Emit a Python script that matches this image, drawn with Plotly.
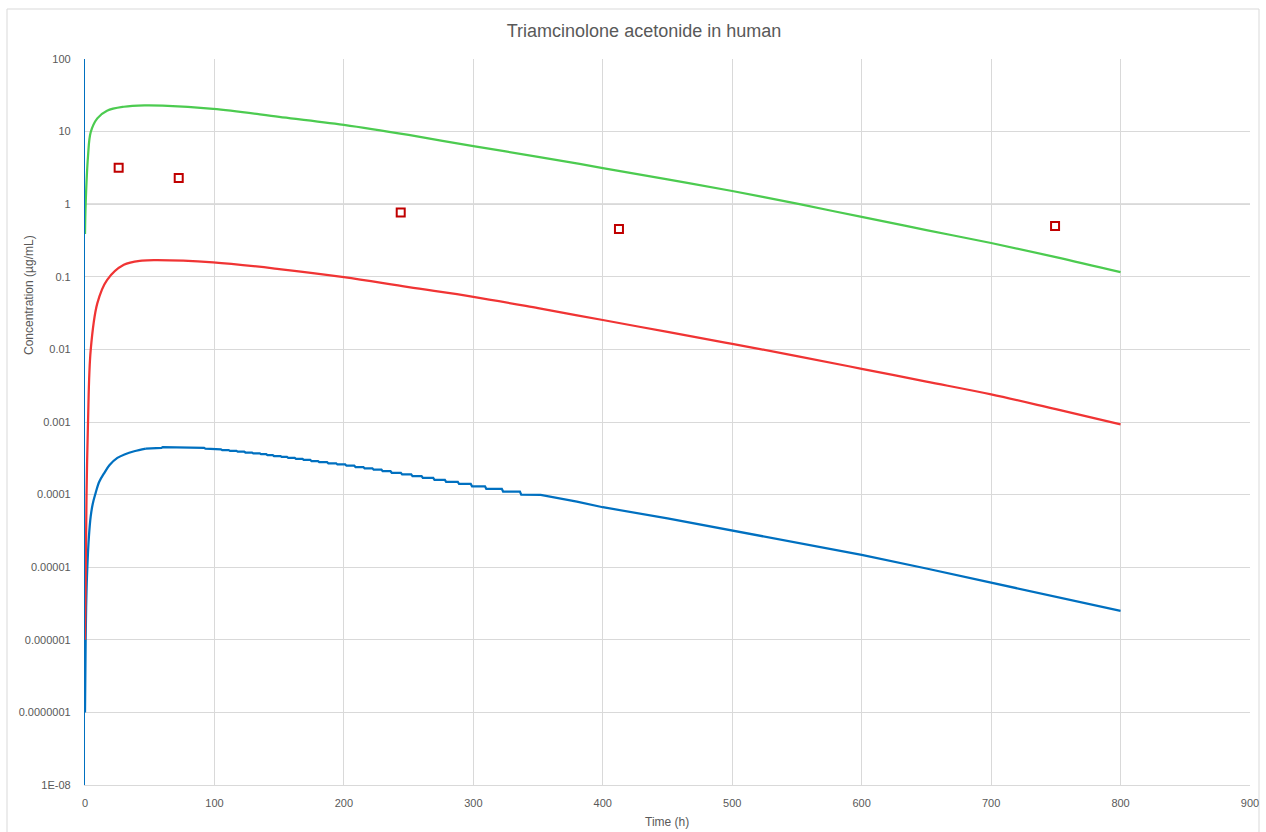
import plotly.graph_objects as go

# ---- simulated concentration profiles (time in h, concentration in µg/mL) ----
green_t = [0, 0.5, 2.3, 4.4, 9.5, 17, 30, 46, 60, 99, 150, 200, 250, 300, 350, 400,
           450, 500, 552, 600, 650, 700, 750, 800]
green_c = [0.39, 1.0, 4.5, 9.8, 15.2, 19.4, 22.0, 23.0, 22.8, 20.5, 16.0, 12.4, 9.0, 6.3,
           4.5, 3.15, 2.2, 1.52, 1.0, 0.667, 0.44, 0.292, 0.187, 0.116]

red_t = [0, 0.6, 1.2, 2.3, 4.4, 9.5, 17, 30, 44, 56, 99, 150, 200, 250, 300, 350, 400,
         450, 500, 550, 600, 650, 700, 750, 800]
red_c = [1e-6, 1e-5, 1e-4, 0.00096, 0.0098, 0.043, 0.090, 0.146, 0.167, 0.170, 0.158,
         0.128, 0.099, 0.072, 0.053, 0.037, 0.0254, 0.0174, 0.0119, 0.0081, 0.0054,
         0.0036, 0.0024, 0.0015, 0.00093]

# blue: rising phase, then values reported to two significant figures (plateaus), then tail
blue_rise_t = [0, 0.5, 1.0, 1.8, 3.0, 4.4, 6.0, 8.2, 11, 14.7, 19, 25, 31, 38, 47]
blue_rise_c = [1e-7, 1e-6, 3.5e-6, 1e-5, 2.6e-5, 5e-5, 7.5e-5, 1.05e-4, 1.5e-4, 1.96e-4,
               2.55e-4, 3.2e-4, 3.6e-4, 3.95e-4, 4.3e-4]

blue_step_start = [47, 52, 60, 86, 93, 99, 106, 112, 118, 124, 130, 136, 141, 146, 152,
                   157, 163, 169, 175, 181, 188, 195, 202, 209, 216, 223, 230, 237, 245,
                   253, 261, 270, 279, 289, 299, 310, 323, 337]
blue_step_end = [51, 59, 85, 92, 98, 105, 111, 117, 123, 129, 135, 140, 145, 151, 156,
                 162, 168, 174, 180, 187, 194, 201, 208, 215, 222, 229, 236, 244, 252,
                 260, 269, 278, 288, 298, 309, 322, 336, 351]
blue_step_value = [4.3e-4, 4.4e-4, 4.5e-4, 4.4e-4, 4.3e-4, 4.2e-4, 4.1e-4, 4.0e-4, 3.9e-4,
                   3.8e-4, 3.7e-4, 3.6e-4, 3.5e-4, 3.4e-4, 3.3e-4, 3.2e-4, 3.1e-4, 3.0e-4,
                   2.9e-4, 2.8e-4, 2.7e-4, 2.6e-4, 2.5e-4, 2.4e-4, 2.3e-4, 2.2e-4, 2.1e-4,
                   2.0e-4, 1.9e-4, 1.8e-4, 1.7e-4, 1.6e-4, 1.5e-4, 1.4e-4, 1.3e-4, 1.2e-4,
                   1.1e-4, 1.0e-4]

blue_tail_t = [352, 380, 400, 450, 500, 550, 600, 650, 700, 750, 800]
blue_tail_c = [9.9e-5, 8.0e-5, 6.7e-5, 4.7e-5, 3.2e-5, 2.2e-5, 1.48e-5, 9.6e-6, 6.1e-6,
               3.9e-6, 2.5e-6]

# ---- observed concentrations ----
obs_t = [26, 72.4, 243.9, 412.5, 749.4]
obs_c = [3.18, 2.30, 0.77, 0.455, 0.50]

# y-axis decades and labels
y_ticks = [1e-8, 1e-7, 1e-6, 1e-5, 1e-4, 1e-3, 1e-2, 1e-1, 1, 10, 100]
y_labels = ["1E-08", "0.0000001", "0.000001", "0.00001", "0.0001", "0.001", "0.01",
            "0.1", "1", "10", "100"]
x_ticks = [0, 100, 200, 300, 400, 500, 600, 700, 800, 900]

# plateau part of the blue profile followed by its tail
blue_t, blue_c = [], []
for s, e, v in zip(blue_step_start, blue_step_end, blue_step_value):
    blue_t += [s, e]
    blue_c += [v, v]
blue_t += blue_tail_t
blue_c += blue_tail_c

W, H = 1266, 832
L, R, T, B = 85, 1250, 59, 785
PW, PH = R - L, B - T
FONT = "Liberation Sans, Arial, sans-serif"
BLUE, RED, GREEN = "#0070C0", "#F03434", "#4CCB50"

fig = go.Figure()
fig.add_trace(go.Scatter(x=blue_rise_t, y=blue_rise_c, mode="lines", line_shape="spline",
                         line=dict(color=BLUE, width=2.25), showlegend=False))
fig.add_trace(go.Scatter(x=blue_t, y=blue_c, mode="lines",
                         line=dict(color=BLUE, width=2.25), showlegend=False))
fig.add_trace(go.Scatter(x=red_t, y=red_c, mode="lines", line_shape="spline",
                         line=dict(color=RED, width=2.25), showlegend=False))
fig.add_trace(go.Scatter(x=green_t, y=green_c, mode="lines", line_shape="spline",
                         line=dict(color=GREEN, width=2.25), showlegend=False))
fig.add_trace(go.Scatter(x=obs_t, y=obs_c, mode="markers",
                         marker=dict(symbol="square", size=8, color="white",
                                     line=dict(color="#C00000", width=2)),
                         showlegend=False))

tick_font = dict(family=FONT, size=11, color="#595959")

fig.update_layout(
    width=W, height=H,
    margin=dict(l=L, r=W - R, t=T, b=H - B, autoexpand=False),
    paper_bgcolor="white", plot_bgcolor="white",
    title=dict(text="Triamcinolone acetonide in human", x=644 / W, xanchor="center",
               y=1 - 31 / H, yanchor="middle",
               font=dict(family=FONT, size=18, color="#595959")),
    xaxis=dict(range=[0, 900], tickvals=x_ticks, showgrid=True, gridcolor="#D9D9D9",
               gridwidth=1, zeroline=False, showline=True, linecolor="#D9D9D9",
               linewidth=1, ticks="", tickfont=tick_font, ticklabelstandoff=8,
               automargin=False),
    yaxis=dict(type="log", range=[-8, 2], tickvals=y_ticks, ticktext=y_labels,
               showgrid=True, gridcolor="#D9D9D9", gridwidth=1, zeroline=False,
               showline=True, linecolor=BLUE, linewidth=1.2, ticks="",
               tickfont=tick_font, ticklabelstandoff=11, automargin=False),
    shapes=[
        # outer chart border
        dict(type="rect", xref="paper", yref="paper",
             x0=(7 - L) / PW, x1=(1259 - L) / PW,
             y0=-(H + 10 - B) / PH, y1=(B - 9) / PH,
             line=dict(color="#D9D9D9", width=1), layer="below"),
        # horizontal axis crossing at 1
        dict(type="line", xref="paper", yref="y", x0=0, x1=1, y0=1, y1=1,
             line=dict(color="#BFBFBF", width=1.3), layer="below"),
    ],
    annotations=[
        dict(text="Time (h)", xref="paper", yref="paper", x=(667 - L) / PW,
             y=-(822 - B) / PH, xanchor="center", yanchor="middle", showarrow=False,
             font=dict(family=FONT, size=12, color="#595959")),
        dict(text="Concentration (µg/mL)", xref="paper", yref="paper",
             x=-(L - 29) / PW, y=(B - 295) / PH, textangle=-90,
             xanchor="center", yanchor="middle", showarrow=False,
             font=dict(family=FONT, size=12, color="#595959")),
    ],
)

fig.write_html("out.html")
